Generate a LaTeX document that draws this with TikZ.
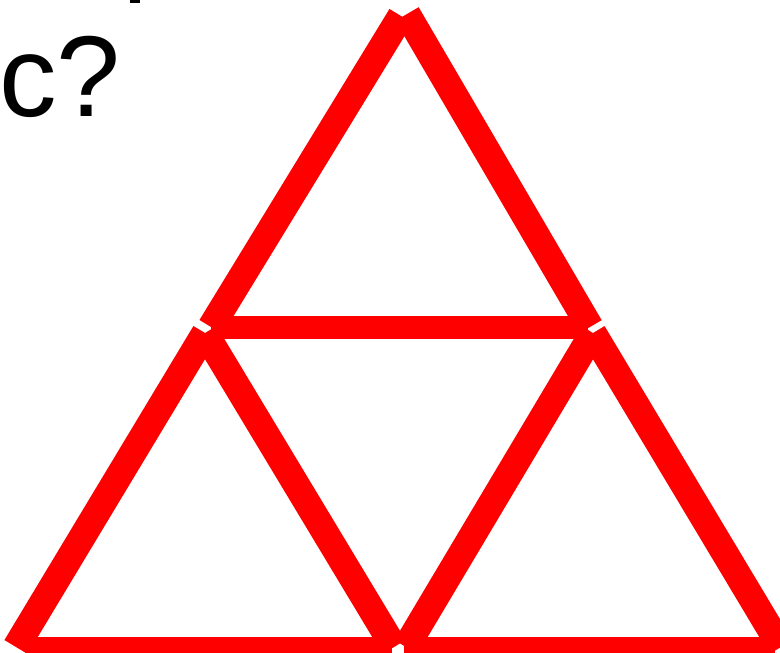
\documentclass[tikz,border=0pt]{standalone}
\usepackage{fontspec}
\setmainfont{Liberation Sans}
\begin{document}
\begin{tikzpicture}[x=1pt,y=-1pt,
  stick/.style={draw=red, line width=27pt, line cap=butt},
  bar/.style={draw=red, line width=23pt, line cap=butt}]
\useasboundingbox (0,0) rectangle (780,653);
\clip (0,0) rectangle (780,653);
\fill[white] (0,0) rectangle (780,653);
% vertices
\coordinate (AL) at (401,16);
\coordinate (AR) at (407,14);
\coordinate (B) at (211,327);
\coordinate (C) at (590,327);
\coordinate (L) at (205,333);
\coordinate (BL) at (16,647);
\coordinate (BM1) at (394,647);
\coordinate (R) at (593,333);
\coordinate (BM2) at (406,647);
\coordinate (BR) at (781,647);
% upper triangle
\draw[bar] (211,327) -- (588,327);
\draw[stick] (AL) -- (B);
\draw[stick] (AR) -- (C);
% lower left triangle
\draw[bar] (25,648.5) -- (392,648.5);
\draw[stick] (L) -- (BL);
\draw[stick] (L) -- (BM1);
% lower right triangle
\draw[bar] (404,648.5) -- (775,648.5);
\draw[stick] (R) -- (BM2);
\draw[stick] (R) -- (BR);
% text
\node[anchor=base west, inner sep=0pt, font=\fontsize{115}{115}\selectfont] (q) at (-1,116.5) {c?};
\fill[black] (130,0) rectangle (140,3);
\end{tikzpicture}
\end{document}
